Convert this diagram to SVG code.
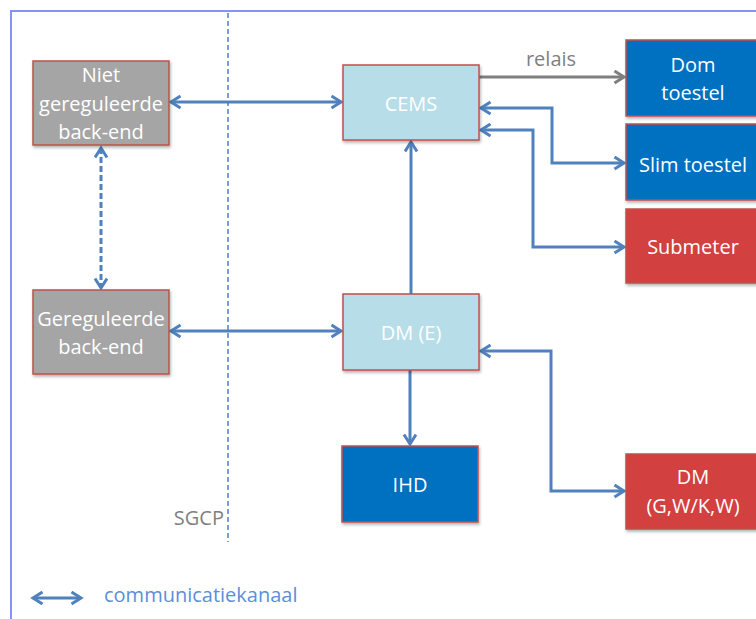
<svg xmlns="http://www.w3.org/2000/svg" width="756" height="619" viewBox="0 0 756 619">
<style>
text{font-family:"Open Sans","Liberation Sans",Arial,sans-serif;font-size:20px}
.t{fill:#ffffff;text-anchor:middle}
.box{stroke:#c0504d;stroke-width:1.5}
.c{fill:none;stroke:#4f81bd;stroke-width:3}
.g{fill:none;stroke:#7f7f7f;stroke-width:3}
</style>
<defs>
<filter id="sh" x="-10%" y="-10%" width="125%" height="130%">
<feDropShadow dx="1" dy="2" stdDeviation="1.5" flood-color="#000" flood-opacity="0.3"/>
</filter>
<marker id="ab" markerWidth="14" markerHeight="16" refX="11" refY="7" orient="auto-start-reverse" markerUnits="userSpaceOnUse">
<path d="M1.5,1 L11,7 L1.5,13" fill="none" stroke="#4f81bd" stroke-width="3"/>
</marker>
<marker id="ag" markerWidth="14" markerHeight="16" refX="11" refY="7" orient="auto-start-reverse" markerUnits="userSpaceOnUse">
<path d="M1.5,1 L11,7 L1.5,13" fill="none" stroke="#7f7f7f" stroke-width="3"/>
</marker>
</defs>
<rect x="0" y="0" width="756" height="619" fill="#ffffff"/>
<rect x="11" y="11" width="800" height="700" fill="none" stroke="#8494f2" stroke-width="2"/>
<line x1="228" y1="13" x2="228" y2="542" stroke="#4f81bd" stroke-width="1.5" stroke-dasharray="5,3"/>
<text x="224" y="525" fill="#7f7f7f" text-anchor="end">SGCP</text>

<g id="connectors">
<line class="c" x1="171" y1="102" x2="341" y2="102" marker-start="url(#ab)" marker-end="url(#ab)"/>
<line class="c" x1="171" y1="331" x2="341" y2="331" marker-start="url(#ab)" marker-end="url(#ab)"/>
<line class="c" x1="101" y1="148" x2="101" y2="288" stroke-dasharray="6,3" marker-start="url(#ab)" marker-end="url(#ab)"/>
<line class="c" x1="411" y1="294" x2="411" y2="142" marker-end="url(#ab)"/>
<line class="c" x1="410" y1="370" x2="410" y2="444" marker-end="url(#ab)"/>
<polyline class="c" points="481,351 551,351 551,491 624,491" marker-start="url(#ab)" marker-end="url(#ab)"/>
<line class="g" x1="479" y1="77" x2="624" y2="77" marker-end="url(#ag)"/>
<polyline class="c" points="481,108 552,108 552,163 624,163" marker-start="url(#ab)" marker-end="url(#ab)"/>
<polyline class="c" points="481,130 533,130 533,247 624,247" marker-start="url(#ab)" marker-end="url(#ab)"/>
<line class="c" x1="33" y1="598" x2="81" y2="598" marker-start="url(#ab)" marker-end="url(#ab)"/>
</g>
<text x="551" y="66" fill="#7f7f7f" text-anchor="middle">relais</text>
<text x="104" y="602" fill="#5b8fd8">communicatiekanaal</text>

<g id="niet-gereguleerde">
<rect class="box" x="33" y="61" width="136" height="84" fill="#a5a5a5" filter="url(#sh)"/>
<text class="t" x="101" y="82">Niet</text>
<text class="t" x="101" y="111">gereguleerde</text>
<text class="t" x="101" y="139">back-end</text>
</g>
<g id="gereguleerde">
<rect class="box" x="33" y="290" width="136" height="84" fill="#a5a5a5" filter="url(#sh)"/>
<text class="t" x="101" y="326">Gereguleerde</text>
<text class="t" x="101" y="354">back-end</text>
</g>
<g id="cems">
<rect class="box" x="343" y="65" width="136" height="75" fill="#b7dde8" filter="url(#sh)"/>
<text class="t" x="411" y="111">CEMS</text>
</g>
<g id="dm-e">
<rect class="box" x="343" y="294" width="136" height="76" fill="#b7dde8" filter="url(#sh)"/>
<text class="t" x="411" y="340">DM (E)</text>
</g>
<g id="ihd">
<rect class="box" x="342" y="446" width="136" height="76" fill="#0070c0" filter="url(#sh)"/>
<text class="t" x="410" y="492">IHD</text>
</g>
<g id="dom-toestel">
<rect class="box" x="626" y="40" width="140" height="76" fill="#0070c0" filter="url(#sh)"/>
<text class="t" x="693" y="72">Dom</text>
<text class="t" x="693" y="100">toestel</text>
</g>
<g id="slim-toestel">
<rect class="box" x="626" y="124" width="140" height="76" fill="#0070c0" filter="url(#sh)"/>
<text class="t" x="693" y="172">Slim toestel</text>
</g>
<g id="submeter">
<rect class="box" x="626" y="209" width="140" height="74" fill="#d24141" filter="url(#sh)"/>
<text class="t" x="693" y="254">Submeter</text>
</g>
<g id="dm-gwkw">
<rect class="box" x="626" y="454" width="140" height="75" fill="#d24141" filter="url(#sh)"/>
<text class="t" x="693" y="484">DM</text>
<text class="t" x="693" y="513">(G,W/K,W)</text>
</g>
</svg>
